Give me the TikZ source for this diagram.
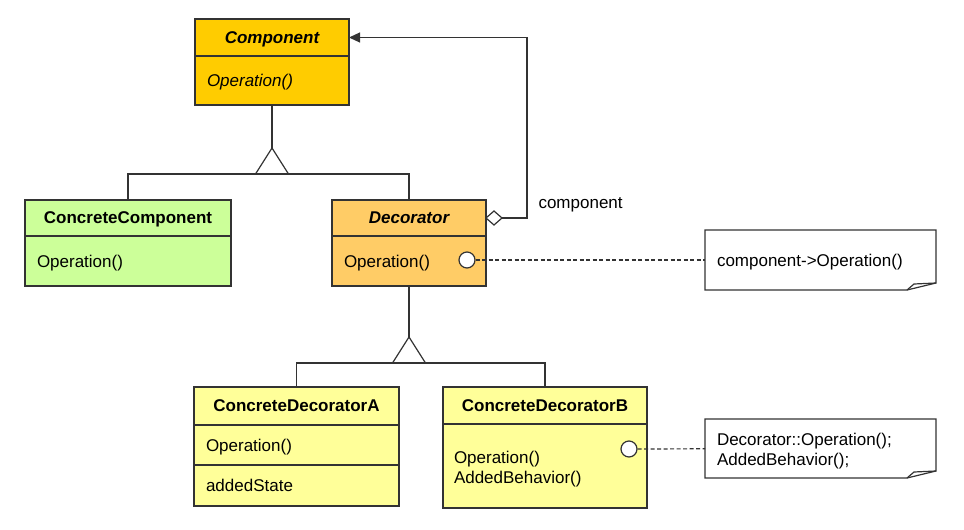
\documentclass[tikz,border=0pt]{standalone}
\usepackage{fontspec}
\setmainfont{Liberation Sans}
\usetikzlibrary{positioning,shapes.geometric,arrows.meta}

\definecolor{compfill}{HTML}{FFCC00}
\definecolor{ccfill}{HTML}{CCFF99}
\definecolor{decfill}{HTML}{FFCC66}
\definecolor{cdfill}{HTML}{FFFF99}
\definecolor{edge}{HTML}{333333}

\newcommand{\umlfont}{\fontsize{17}{20}\selectfont}

\tikzset{
  umlpart/.style={draw=edge, line width=1.2pt, inner xsep=12pt, inner ysep=0pt,
    outer sep=0pt, align=left, text depth=0pt, font=\umlfont},
  umltitle/.style={umlpart, align=center, font=\umlfont\bfseries},
  twolines/.style={text depth=18pt},
  umlline/.style={draw=edge, line width=1.2pt},
  gentri/.style={draw=edge, line width=1.2pt, fill=white, isosceles triangle,
    isosceles triangle stretches, shape border rotate=90,
    minimum width=33pt, minimum height=26pt, inner sep=0pt, outer sep=0pt},
  aggr/.style={draw=edge, line width=1.2pt, fill=white, diamond,
    minimum width=16pt, minimum height=14pt, inner sep=0pt, outer sep=0pt},
  opdot/.style={draw=edge, line width=1.2pt, fill=white, circle,
    minimum size=16pt, inner sep=0pt},
  notebox/.style={fill=white, minimum width=231pt, text width=207pt,
    inner xsep=12pt, inner ysep=0pt, outer sep=0pt, align=left,
    text depth=0pt, font=\umlfont},
  notedraw/.style={draw=edge, line width=1.2pt},
  notelink/.style={draw=edge, line width=1.2pt, dash pattern=on 4pt off 2.5pt},
}

\begin{document}
\begin{tikzpicture}[x=1pt,y=-1pt]
  \useasboundingbox (0,0) rectangle (964,530);

  % Component (abstract)
  \node[umltitle, fill=compfill, text width=130pt, minimum height=37pt] (comp) at (272,37.5) {\itshape Component};
  \node[umlpart, fill=compfill, text width=130pt, minimum height=49pt, below=0pt of comp] (compop) {\itshape Operation()};

  % ConcreteComponent
  \node[umltitle, fill=ccfill, text width=182pt, minimum height=36pt] (cc) at (128,218) {ConcreteComponent};
  \node[umlpart, fill=ccfill, text width=182pt, minimum height=50pt, below=0pt of cc] (ccop) {Operation()};

  % Decorator (abstract)
  \node[umltitle, fill=decfill, text width=130pt, minimum height=36pt] (dec) at (409,218) {\itshape Decorator};
  \node[umlpart, fill=decfill, text width=130pt, minimum height=50pt, below=0pt of dec] (decop) {Operation()};
  \node[opdot] (decdot) at (467,260) {};

  % ConcreteDecoratorA
  \node[umltitle, fill=cdfill, text width=181pt, minimum height=38pt] (cda) at (296.5,406) {ConcreteDecoratorA};
  \node[umlpart, fill=cdfill, text width=181pt, minimum height=40pt, below=0pt of cda] (cdaop) {Operation()};
  \node[umlpart, fill=cdfill, text width=181pt, minimum height=41pt, below=0pt of cdaop] (cdaattr) {addedState};

  % ConcreteDecoratorB
  \node[umltitle, fill=cdfill, text width=182pt, inner xsep=11pt, minimum height=37pt] (cdb) at (545,405.5) {ConcreteDecoratorB};
  \node[umlpart, twolines, fill=cdfill, text width=182pt, inner xsep=11pt, minimum height=84pt, below=0pt of cdb] (cdbop) {Operation()\\AddedBehavior()};
  \node[opdot] (cdbdot) at (629,449) {};

  % Inheritance
  \node[gentri, anchor=apex] (gen1) at (272,148) {};
  \draw[umlline] (compop.south) -- (gen1.apex);
  \draw[umlline] (cc.north) |- (gen1.lower side) -| (dec.north);

  \node[gentri, anchor=apex] (gen2) at (409,337) {};
  \draw[umlline] (decop.south) -- (gen2.apex);
  \draw[umlline] (cda.north) |- (gen2.lower side) -| (cdb.north);

  % Aggregation back to Component
  \node[aggr, anchor=west] (agg) at (dec.east) {};
  \coordinate (aggbend) at (527,37.5);
  \draw[umlline, -{Triangle[length=11pt,width=10pt]}] (agg.east) -| (aggbend) -- (comp.east);
  \node[anchor=west, text depth=0pt, font=\umlfont] (rolename) at (535,203) {component};

  % Notes
  \node[notebox, minimum height=60pt] (note1) at (820.5,260) {component->Operation()};
  \node[notebox, twolines, minimum height=59pt] (note2) at (820.5,448.5) {Decorator::Operation();\\AddedBehavior();};
  \foreach \n in {note1,note2}{
    \draw[notedraw] (\n.north west) -- (\n.north east) -- ([yshift=7pt]\n.south east)
      -- ([xshift=-29pt]\n.south east) -- (\n.south west) -- cycle;
    \draw[notedraw] ([xshift=-29pt]\n.south east) -- ([xshift=-22pt,yshift=6pt]\n.south east)
      -- ([yshift=7pt]\n.south east);
  }

  % Note links
  \draw[notelink] (decdot) -- (note1);
  \draw[notelink] (cdbdot) -- (note2);
\end{tikzpicture}
\end{document}
